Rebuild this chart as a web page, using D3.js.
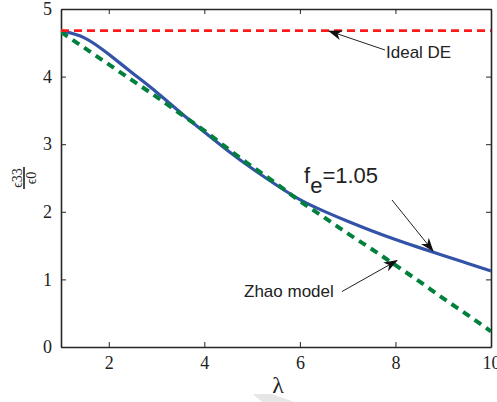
<!DOCTYPE html>
<html>
<head>
<meta charset="utf-8">
<script src="https://cdn.jsdelivr.net/npm/d3@7"></script>
<style>
  body { margin: 0; background: #fff; }
  svg { display: block; }
</style>
</head>
<body>
<svg id="chart" width="497" height="402"></svg>
<script>

// data
let lambda   = [1, 1.5, 2, 2.5, 3, 3.5, 4, 4.5, 5, 5.5, 6, 6.5, 7, 7.5, 8, 8.5, 9, 9.5, 10];
let fe_curve = [4.68, 4.57, 4.33, 4.05, 3.77, 3.47, 3.18, 2.9, 2.64, 2.4, 2.18, 2.01, 1.86, 1.72, 1.59, 1.47, 1.355, 1.24, 1.125];
let zhao     = [4.66, 4.42, 4.18, 3.94, 3.7, 3.45, 3.2, 2.93, 2.67, 2.42, 2.16, 1.92, 1.68, 1.45, 1.21, 0.97, 0.72, 0.48, 0.23];
let ideal_de = 4.68;
let x_ticks  = [2, 4, 6, 8, 10];
let y_ticks  = [0, 1, 2, 3, 4, 5];

let chart = d3.select("#chart");
let m_left = 61, m_right = 491, m_top = 9, m_bottom = 347;

// scales
let x = d3.scaleLinear().domain([1, 10]).range([m_left, m_right]);
let y = d3.scaleLinear().domain([0, 5]).range([m_bottom, m_top]);

let axisColor = "#262626";
let serif = "Liberation Serif";
let sans = "Liberation Sans";

// clip for the lines
let defs = chart.append("defs");
defs.append("clipPath").attr("id", "plotclip")
  .append("rect").attr("x", m_left).attr("y", m_top)
  .attr("width", m_right - m_left).attr("height", m_bottom - m_top);

// arrow marker
defs.append("marker")
  .attr("id", "arrow")
  .attr("viewBox", "0 0 14 10")
  .attr("refX", 13).attr("refY", 5)
  .attr("markerWidth", 14).attr("markerHeight", 10)
  .attr("markerUnits", "userSpaceOnUse")
  .attr("orient", "auto")
  .append("path")
    .attr("d", "M0,0 L14,5 L0,10 L4,5 Z")
    .attr("fill", "#111");

// faint watermark at the bottom
chart.append("path")
  .attr("d", "M253,394 L272,394 L294,402 L262,402 Z")
  .attr("fill", "#e6e6e6");

// axes (MATLAB box with inward ticks)
let g_bottom = chart.append("g").attr("transform", `translate(0,${m_bottom})`)
  .call(d3.axisBottom(x).tickValues(x_ticks).tickSizeInner(-5).tickSizeOuter(0).tickPadding(9).tickFormat(d3.format("d")));
let g_top = chart.append("g").attr("transform", `translate(0,${m_top})`)
  .call(d3.axisTop(x).tickValues(x_ticks).tickSizeInner(-5).tickSizeOuter(0).tickFormat(""));
let g_left = chart.append("g").attr("transform", `translate(${m_left},0)`)
  .call(d3.axisLeft(y).tickValues(y_ticks).tickSizeInner(-5).tickSizeOuter(0).tickPadding(9).tickFormat(d3.format("d")));
let g_right = chart.append("g").attr("transform", `translate(${m_right},0)`)
  .call(d3.axisRight(y).tickValues(y_ticks).tickSizeInner(-5).tickSizeOuter(0).tickFormat(""));

[g_bottom, g_top, g_left, g_right].forEach(function(g){
  g.select(".domain").attr("stroke", axisColor).attr("stroke-width", 1.6);
  g.selectAll(".tick line").attr("stroke", axisColor).attr("stroke-width", 1);
  g.selectAll(".tick text")
    .attr("fill", "#222")
    .style("font-family", serif)
    .style("font-size", "18px");
});

// lines
let line = d3.line()
  .x(function(d){ return x(d[0]); })
  .y(function(d){ return y(d[1]); })
  .curve(d3.curveNatural);

let plot = chart.append("g").attr("clip-path", "url(#plotclip)");

plot.append("path")
  .datum(d3.zip(lambda, fe_curve))
  .attr("d", line)
  .attr("fill", "none")
  .attr("stroke", "#3353a8")
  .attr("stroke-width", 3.2);

plot.append("path")
  .datum(d3.zip(lambda, zhao))
  .attr("d", line)
  .attr("fill", "none")
  .attr("stroke", "#00803c")
  .attr("stroke-width", 4)
  .attr("stroke-dasharray", "8,6");

plot.append("line")
  .attr("x1", x(1)).attr("x2", x(10))
  .attr("y1", y(ideal_de)).attr("y2", y(ideal_de))
  .attr("stroke", "#ff1a1a")
  .attr("stroke-width", 2.6)
  .attr("stroke-dasharray", "8,5");

// annotations
function arrow(x1, y1, x2, y2){
  chart.append("line")
    .attr("x1", x1).attr("y1", y1).attr("x2", x2).attr("y2", y2)
    .attr("stroke", "#222").attr("stroke-width", 1)
    .attr("marker-end", "url(#arrow)");
}

chart.append("text")
  .attr("x", 386).attr("y", 57.5)
  .style("font-family", sans).style("font-size", "17px").attr("fill", "#222")
  .text("Ideal DE");
arrow(385, 50, 329, 31);

let fe = chart.append("text")
  .attr("x", 304).attr("y", 182.5)
  .style("font-family", sans).style("font-size", "22px").attr("fill", "#222");
fe.append("tspan").text("f");
fe.append("tspan").attr("dy", 10).text("e");
fe.append("tspan").attr("dy", -10).text("=1.05");
arrow(392, 200, 433, 251);

chart.append("text")
  .attr("x", 244).attr("y", 297)
  .style("font-family", sans).style("font-size", "17px").attr("fill", "#222")
  .text("Zhao model");
arrow(342, 291.5, 397, 260.5);

// axis labels
chart.append("text")
  .attr("x", 278).attr("y", 393)
  .attr("text-anchor", "middle")
  .style("font-family", serif).style("font-size", "24px")
  .attr("fill", "#222")
  .text("λ");

let ylab = chart.append("g").attr("transform", "translate(24,178) rotate(-90)");
ylab.append("line")
  .attr("x1", -11).attr("x2", 11).attr("y1", 0).attr("y2", 0)
  .attr("stroke", "#111").attr("stroke-width", 1.5);
ylab.append("text")
  .attr("x", 0).attr("y", -2.5)
  .attr("text-anchor", "middle")
  .style("font-family", serif).style("font-size", "14px").attr("fill", "#222")
  .text("ϵ33");
ylab.append("text")
  .attr("x", 0).attr("y", 12)
  .attr("text-anchor", "middle")
  .style("font-family", serif).style("font-size", "14px").attr("fill", "#222")
  .text("ϵ0");

</script>
</body>
</html>
